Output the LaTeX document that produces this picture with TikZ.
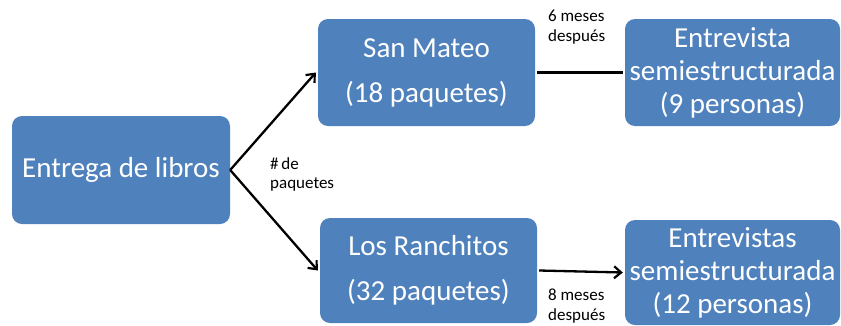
\documentclass[tikz,border=0pt]{standalone}
\usepackage{fontspec}
\setmainfont{Carlito}
\usetikzlibrary{arrows.meta}
\definecolor{boxblue}{HTML}{4F81BD}
\tikzset{
  bluebox/.style={fill=boxblue, rounded corners=10pt, text=white, align=center, inner sep=0pt,
    font=\fontsize{29}{45}\selectfont},
  widebox/.style={bluebox, font=\fontsize{29}{33}\selectfont},
  conn/.style={line width=2.3pt, black},
  arr/.style={conn, -{Straight Barb[length=7pt,width=12pt,line width=2.2pt]}},
  smalllbl/.style={align=left, inner sep=0pt, font=\fontsize{17}{19.5}\selectfont}
}
\begin{document}
\begin{tikzpicture}[x=1pt,y=-1pt]
\useasboundingbox (0,0) rectangle (841,325);
\node[bluebox, minimum width=218pt, minimum height=108pt] (ent) at (121,170) {Entrega de libros};
\node[bluebox, minimum width=217pt, minimum height=107pt] (sm) at (426.5,72.5) {San Mateo\\(18 paquetes)};
\node[bluebox, minimum width=217pt, minimum height=105pt] (lr) at (428.5,270.5) {Los Ranchitos\\(32 paquetes)};
\node[widebox, minimum width=215pt, minimum height=107pt] (e1) at (732.5,72.5) {Entrevista\\semiestructurada\\(9 personas)};
\node[widebox, minimum width=215pt, minimum height=105pt] (e2) at (732.5,272.5) {Entrevistas\\semiestructurada\\(12 personas)};
\draw[arr] (ent.east) -- ([xshift=-2pt]sm.west);
\draw[arr] (ent.east) -- ([xshift=-2pt]lr.west);
\draw[conn] ([xshift=2pt]sm.east) -- ([xshift=-2pt]e1.west);
\draw[arr] ([xshift=2pt]lr.east) -- ([xshift=-2pt]e2.west);
\node[smalllbl, anchor=north west] (l1) at (548,10) {6 meses\\después};
\node[smalllbl, anchor=north west] (l2) at (270,157) {\#\,de\\paquetes};
\node[smalllbl, anchor=north west] (l3) at (548,289) {8 meses\\después};
\end{tikzpicture}
\end{document}
